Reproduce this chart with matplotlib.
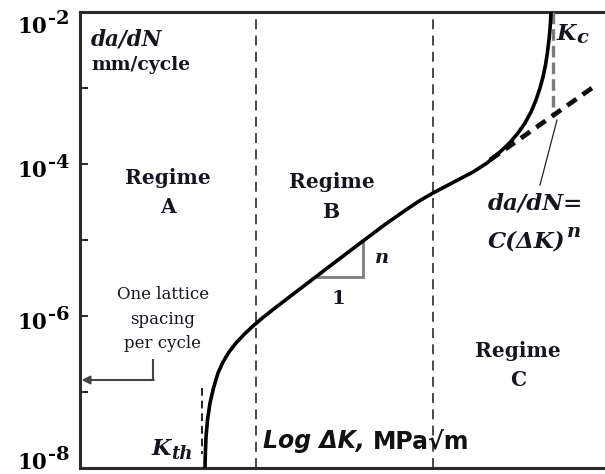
import matplotlib
matplotlib.use("Agg")
import matplotlib.pyplot as plt

# ---------------- data (log10 dK in arbitrary units, log10 da/dN) ----------------
log_dK = [1.6447, 1.6487, 1.6579, 1.6776, 1.7105, 1.7566, 1.8158, 1.8816, 1.9605, 2.0526,
          2.1579, 2.2763, 2.4079, 2.5658, 2.7632, 3.0000, 3.2895, 3.7237, 4.0132, 4.2763,
          4.4737, 4.6447, 4.9079, 5.1711, 5.3553, 5.5263, 5.6579, 5.7632, 5.8553, 5.9342,
          6.0000, 6.0526, 6.0921, 6.1250, 6.1513, 6.1737, 6.1882, 6.1974]
log_rate = [-8.0000, -7.8289, -7.5921, -7.3684, -7.1447, -6.9474, -6.7500, -6.6053, -6.4737, -6.3553,
            -6.2434, -6.1316, -6.0197, -5.8947, -5.7434, -5.5632, -5.3421, -5.0132, -4.7961, -4.6118,
            -4.4803, -4.3816, -4.2434, -4.1053, -3.9868, -3.8421, -3.7171, -3.5921, -3.4605, -3.3158,
            -3.1579, -3.0000, -2.8553, -2.6974, -2.5263, -2.3421, -2.1711, -2.0000]

paris_dK = [5.395, 6.737]          # extrapolated power-law line
paris_rate = [-3.947, -3.000]

regime_bounds = [2.316, 4.645]     # A|B and B|C boundaries
K_th = 1.605
K_c = 6.224
K_c_span = [-2.0, -3.36]
K_th_span = [-6.95, -7.82]

slope_tri_dK = [3.118, 3.724, 3.724]
slope_tri_rate = [-5.487, -5.487, -5.013]

lattice_rate = -6.842              # one lattice spacing per cycle

ytick_exps = [-8, -7, -6, -5, -4, -3, -2]
ylabel_exps = [-8, -6, -4, -2]

# ---------------- figure ----------------
W, H = 605, 474
fig = plt.figure(figsize=(W / 100, H / 100), dpi=100)
L, T, B = 80, 12, 468
DEC = 76.0
ax = fig.add_axes([L / W, (H - B) / H, (W - L) / W, (B - T) / H])
ax.set_xlim(0, (W - L) / DEC)
ax.set_yscale("log")
ax.set_ylim(1e-8, 1e-2)

SERIF = "DejaVu Serif"
SANS = "DejaVu Sans"
TXT = "#15151f"

for s in ["left", "top", "bottom"]:
    ax.spines[s].set_linewidth(2.2)
    ax.spines[s].set_color("#2b2b2b")
ax.spines["right"].set_visible(False)

ax.set_xticks([])
ax.set_yticks([10.0 ** e for e in ytick_exps])
ax.yaxis.set_minor_locator(matplotlib.ticker.NullLocator())
ax.tick_params(axis="y", direction="in", length=6, width=1.4, color="#2b2b2b",
               labelleft=False)


def px2data(px, py):
    return (px - L) / DEC, 10 ** (-2 - (py - T) / DEC)


# main curve
ax.plot(log_dK, [10.0 ** v for v in log_rate], color="black", lw=2.6,
        solid_capstyle="butt", solid_joinstyle="round", zorder=5)

# power law extrapolation
ax.plot(paris_dK, [10.0 ** v for v in paris_rate], color="#111111", lw=3.4,
        linestyle=(0, (2.4, 1.6)), dash_capstyle="butt", zorder=4)

# regime boundaries
for xb in regime_bounds:
    ax.axvline(xb, color="#3a3a3a", lw=1.3, linestyle=(0, (5.5, 3.5)), zorder=2)

# K_c and K_th dashed markers
ax.plot([K_c, K_c], [10.0 ** v for v in K_c_span], color="#7a7a7a", lw=2.4,
        linestyle=(0, (3.5, 1.5)), zorder=3)
ax.plot([K_th, K_th], [10.0 ** v for v in K_th_span], color="#222222", lw=1.4,
        linestyle=(0, (4, 2.5)), zorder=3)

# slope triangle
ax.plot(slope_tri_dK, [10.0 ** v for v in slope_tri_rate], color="#7d7d7d", lw=2.0,
        zorder=4, solid_joinstyle="miter")

# leader line to the equation
x0, y0 = px2data(557, 120)
x1, y1 = px2data(540, 185)
ax.plot([x0, x1], [y0, y1], color="#222222", lw=0.9, zorder=4)

# lattice arrow
ax_, ay_ = px2data(153, 360)
bx_, _ = px2data(153, 380)
ax.plot([ax_, bx_], [ay_, 10 ** lattice_rate], color="#444444", lw=1.5)
ax.annotate("", xy=(0.02, 10 ** lattice_rate), xytext=(bx_ + 0.01, 10 ** lattice_rate),
            arrowprops=dict(arrowstyle="-|>", color="#444444", lw=1.5,
                            mutation_scale=12, shrinkA=0, shrinkB=0))

renderer = fig.canvas.get_renderer()


def runs(px, py, parts, ha="left"):
    """parts: list of (text, kwargs, dy_px, gap_px)."""
    x, y = px2data(px, py)
    items = []
    off = 0.0
    for s, kw, dy, gap in parts:
        off += gap
        t = ax.annotate(s, xy=(x, y), xycoords="data", xytext=(off, dy),
                        textcoords="offset pixels", ha="left", va="baseline",
                        annotation_clip=False, **kw)
        w = t.get_window_extent(renderer).width
        items.append((t, off, dy))
        off += w
    if ha == "center":
        for t, o, dy in items:
            t.xyann = (o - off / 2.0, dy)
    elif ha == "right":
        for t, o, dy in items:
            t.xyann = (o - off, dy)
    return items


def txt(px, py, s, size, weight="bold", style="normal", family=SERIF, ha="center", color=TXT):
    x, y = px2data(px, py)
    ax.text(x, y, s, fontsize=size, fontweight=weight, fontstyle=style, family=family,
            ha=ha, va="baseline", color=color, clip_on=False)


BI = dict(family=SERIF, fontweight="bold", fontstyle="italic", color=TXT)
SB = dict(family=SANS, fontweight="bold", color="#111111")

# y tick labels: "10" with raised exponent
base_shift = {-2: 21, -4: 13, -6: 13, -8: 1}
for e in ylabel_exps:
    tick_py = T + (-2 - e) * DEC
    x, y = px2data(L, tick_py + base_shift[e])
    ax.annotate("10", xy=(x, y), xycoords="data", xytext=(-33, 0),
                textcoords="offset pixels", ha="right", va="baseline",
                fontsize=15.5, fontweight="bold", family=SERIF, color="black",
                annotation_clip=False)
    ax.annotate("-" + str(-e), xy=(x, y), xycoords="data",
                xytext=(-32, 9), textcoords="offset pixels", ha="left", va="baseline",
                fontsize=14, fontweight="bold", family=SERIF, color="black",
                annotation_clip=False)

# axis texts
txt(91, 45, "da/dN", 15.5, style="italic", ha="left")
txt(91, 70, "mm/cycle", 13.5, ha="left")

for cx, b1, b2, letter in [(168, 184, 213, "A"), (332, 188, 218, "B"), (518, 357, 386, "C")]:
    txt(cx, b1, "Regime", 14.5)
    txt(cx, b2, letter, 14.5)

txt(163, 299, "One lattice", 12, weight="normal")
txt(163, 324, "spacing", 12, weight="normal")
txt(163, 348, "per cycle", 12, weight="normal")

txt(382, 263, "n", 14, style="italic")
txt(338, 304, "1", 14)

runs(152, 455, [("K", dict(fontsize=16, **BI), 0, 0), ("th", dict(fontsize=13, **BI), -4, 0)])
runs(557, 40, [("K", dict(fontsize=16, **BI), 0, 0), ("c", dict(fontsize=14, **BI), -3, 0)])

txt(488, 209, "da/dN=", 16.5, style="italic", ha="left")
runs(488, 248, [("C(\u0394K)", dict(fontsize=16.5, **BI), 0, 0),
                ("n", dict(fontsize=14, **BI), 11, 1)])

runs(263, 448, [("Log \u0394K,", dict(fontsize=17, fontstyle="italic", **SB), 0, 0),
                ("MPa\u221am", dict(fontsize=17, **SB), 0, 8)])

fig.savefig("out.png", dpi=100)
